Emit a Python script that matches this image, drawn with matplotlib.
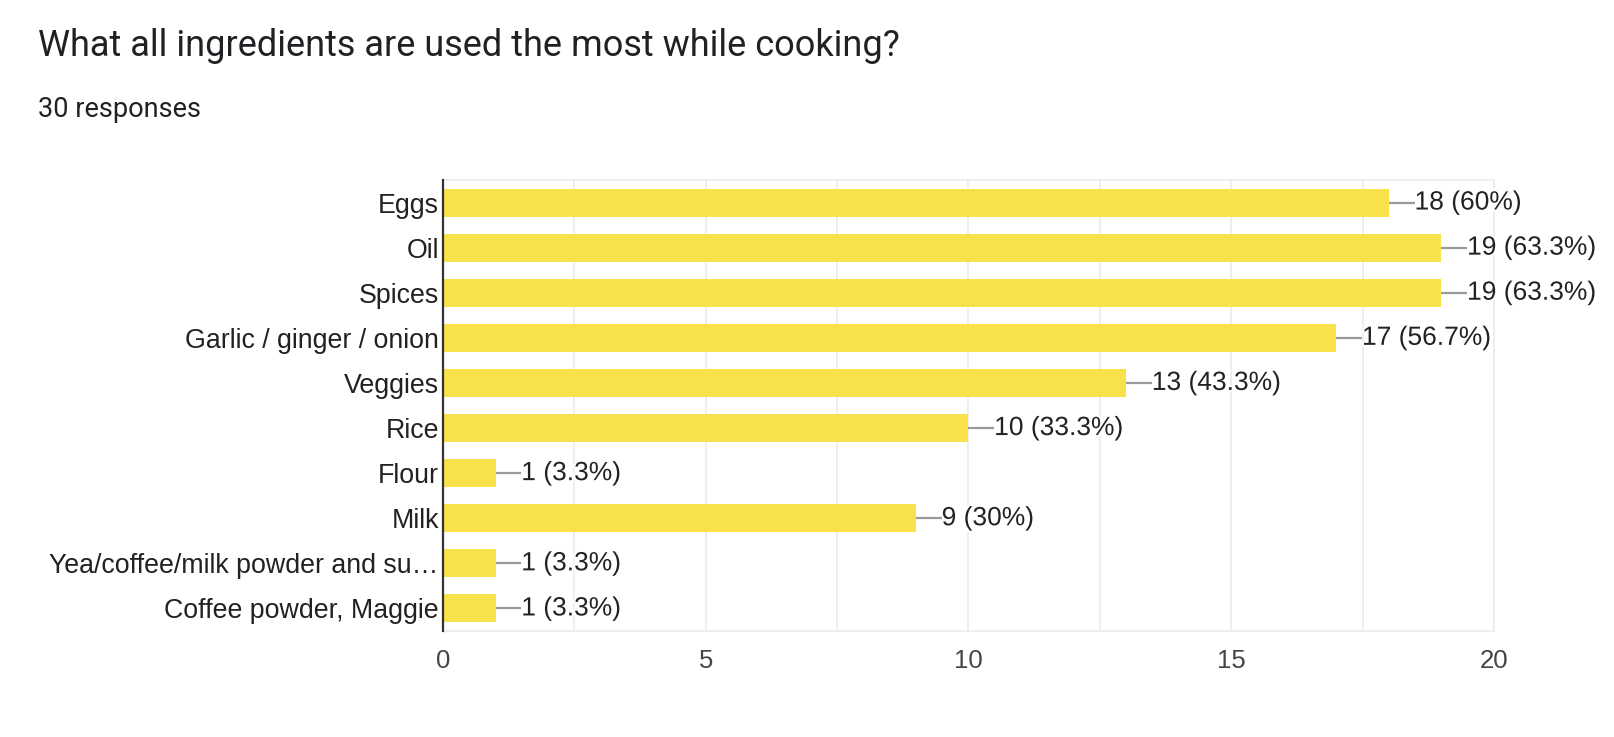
import matplotlib
matplotlib.use("Agg")
import matplotlib.pyplot as plt
import matplotlib.patheffects as pe
import numpy as np

# survey data
ingredients = [
    "Eggs",
    "Oil",
    "Spices",
    "Garlic / ginger / onion",
    "Veggies",
    "Rice",
    "Flour",
    "Milk",
    "Yea/coffee/milk powder and su\u2026",
    "Coffee powder, Maggie",
]
counts = [18, 19, 19, 17, 13, 10, 1, 9, 1, 1]
total_responses = 30
x_ticks = [0, 5, 10, 15, 20]

bar_color = "#f9e14b"
label_font = "Liberation Sans"

fig = plt.figure(figsize=(16.15, 7.37), dpi=100)
ax = fig.add_axes([0.2743, 0.1438, 0.6507, 0.612])

y = np.arange(len(ingredients))
ax.barh(y, counts, height=0.62, color=bar_color, zorder=2)

# connector line + value label next to each bar
for yi, c in zip(y, counts):
    pct = c / total_responses * 100
    pct_txt = f"{pct:.1f}".rstrip("0").rstrip(".")
    ax.plot([c, c + 0.49], [yi, yi], color="#9a9a9a", lw=1.6, zorder=3,
            solid_capstyle="butt")
    ax.text(c + 0.49, yi, f"{c} ({pct_txt}%)", va="center", ha="left",
            fontsize=19, color="#222222", family=label_font, zorder=4,
            path_effects=[pe.withStroke(linewidth=3, foreground="white")])

ax.set_xlim(0, 20)
ax.set_ylim(len(ingredients) - 0.5, -0.5)
ax.set_xticks(x_ticks)
ax.set_xticks(np.arange(0, 20.1, 2.5), minor=True)
ax.set_yticks(y)
ax.set_yticklabels(ingredients)

ax.grid(axis="x", which="both", color="#ebebeb", lw=1.2, zorder=0)
ax.set_axisbelow(True)

ax.tick_params(axis="both", which="both", length=0)
ax.tick_params(axis="x", pad=13, labelsize=18.5, labelcolor="#444444")
ax.tick_params(axis="y", pad=3, labelsize=19.3, labelcolor="#222222")
for lbl in ax.get_xticklabels() + ax.get_yticklabels():
    lbl.set_family(label_font)

for side in ["top", "right", "bottom"]:
    ax.spines[side].set_color("#ebebeb")
    ax.spines[side].set_linewidth(1.2)
ax.spines["left"].set_color("#333333")
ax.spines["left"].set_linewidth(1.6)
ax.spines["left"].set_zorder(5)

fig.text(0.0235, 0.937, "What all ingredients are used the most while cooking?",
         fontsize=26, family="Roboto", color="#202124", va="center", ha="left")
fig.text(0.0235, 0.852, f"{total_responses} responses", fontsize=19.5,
         family="Roboto", color="#202124", va="center", ha="left")

fig.savefig("out.png", dpi=100, facecolor="white")
